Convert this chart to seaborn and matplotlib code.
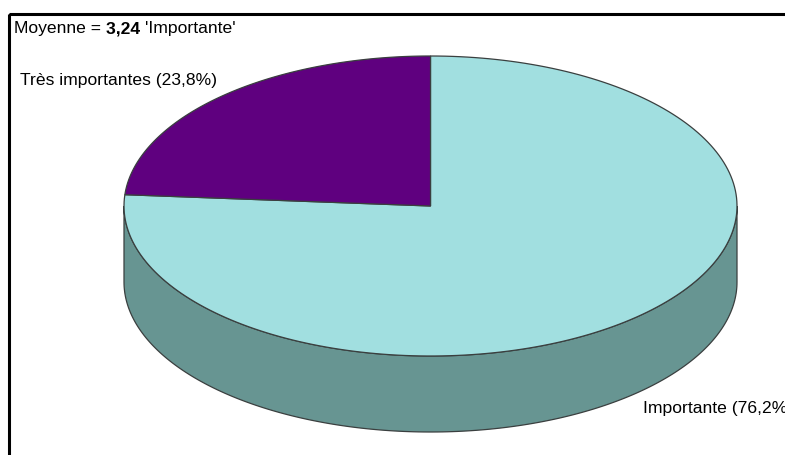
import numpy as np
import matplotlib
matplotlib.use("Agg")
import matplotlib.pyplot as plt
from matplotlib.patches import Polygon, Rectangle
import seaborn as sns

# Survey answers and their shares (%), in drawing order
categories = ["Importante", "Très importantes"]
shares = [76.2, 23.8]
mean_score = 3.24
mean_label = "Importante"

sns.set_theme(style="white")
plt.rcParams["font.family"] = ["Liberation Sans", "DejaVu Sans"]

top_colors = sns.color_palette(["#A1DFE0", "#5F007F"])
side_colors = sns.color_palette(["#679592", "#3C0050"])
edge = "#3A3F3F"

W, H = 785, 455
fig = plt.figure(figsize=(W / 100, H / 100), dpi=100)
ax = fig.add_axes([0, 0, 1, 1])
ax.set_xlim(0, W)
ax.set_ylim(H, 0)
ax.axis("off")

# Pie geometry (ellipse centre, radii, thickness of the disc)
cx, cy, rx, ry, depth = 430.5, 206.0, 306.5, 150.0, 76.0


def arc(t0, t1, dy=0.0, n=200):
    t = np.radians(np.linspace(t0, t1, n))
    return np.column_stack([cx - rx * np.cos(t), cy - ry * np.sin(t) + dy])


# Slices run clockwise from twelve o'clock
fractions = np.array(shares) / np.sum(shares)
ends = 90 - 360 * np.cumsum(fractions)
starts = np.concatenate([[90], ends[:-1]])
# mirror so the angles increase clockwise on screen
starts, ends = 180 - starts, 180 - ends

# Visible front wall (angles between 180 and 360 degrees)
for a0, a1, sc in zip(starts, ends, side_colors):
    lo, hi = min(a0, a1), max(a0, a1)
    for shift in (0, -360, 360):
        s0, s1 = max(lo + shift, 180), min(hi + shift, 360)
        if s1 > s0:
            upper = arc(s0, s1)
            lower = arc(s1, s0, dy=depth)
            ax.add_patch(Polygon(np.vstack([upper, lower]), closed=True,
                                 facecolor=sc, edgecolor=edge, lw=0.9, zorder=2))

# Top faces
for a0, a1, tc in zip(starts, ends, top_colors):
    pts = np.vstack([[cx, cy], arc(a0, a1), [cx, cy]])
    ax.add_patch(Polygon(pts, closed=True, facecolor=tc, edgecolor=edge,
                         lw=0.9, zorder=3))

# Chart frame
ax.add_patch(Rectangle((9, 14), 900, 600, fill=False, edgecolor="black",
                       lw=2.2, zorder=5, clip_on=False))

# Texts
fs = 12.6
ty = 29
t = ax.text(14, ty, "Moyenne = ", fontsize=fs, va="center", ha="left", color="black")
fig.canvas.draw()
bb = t.get_window_extent()
x1 = ax.transData.inverted().transform((bb.x1, 0))[0]
t2 = ax.text(x1, ty, f"{mean_score:.2f} ".replace(".", ","), fontsize=fs,
             fontweight="bold", va="center", ha="left", color="black")
fig.canvas.draw()
bb2 = t2.get_window_extent()
x2 = ax.transData.inverted().transform((bb2.x1, 0))[0]
ax.text(x2, ty, f"'{mean_label}'", fontsize=fs, va="center", ha="left", color="black")

label_pos = [(643, 408), (20, 81)]
for cat, val, (lx, ly) in zip(categories, shares, label_pos):
    ax.text(lx, ly, f"{cat} ({val:.1f}%)".replace(".", ","), fontsize=fs,
            va="center", ha="left", color="black", clip_on=False)

fig.savefig("out.png", dpi=100)
